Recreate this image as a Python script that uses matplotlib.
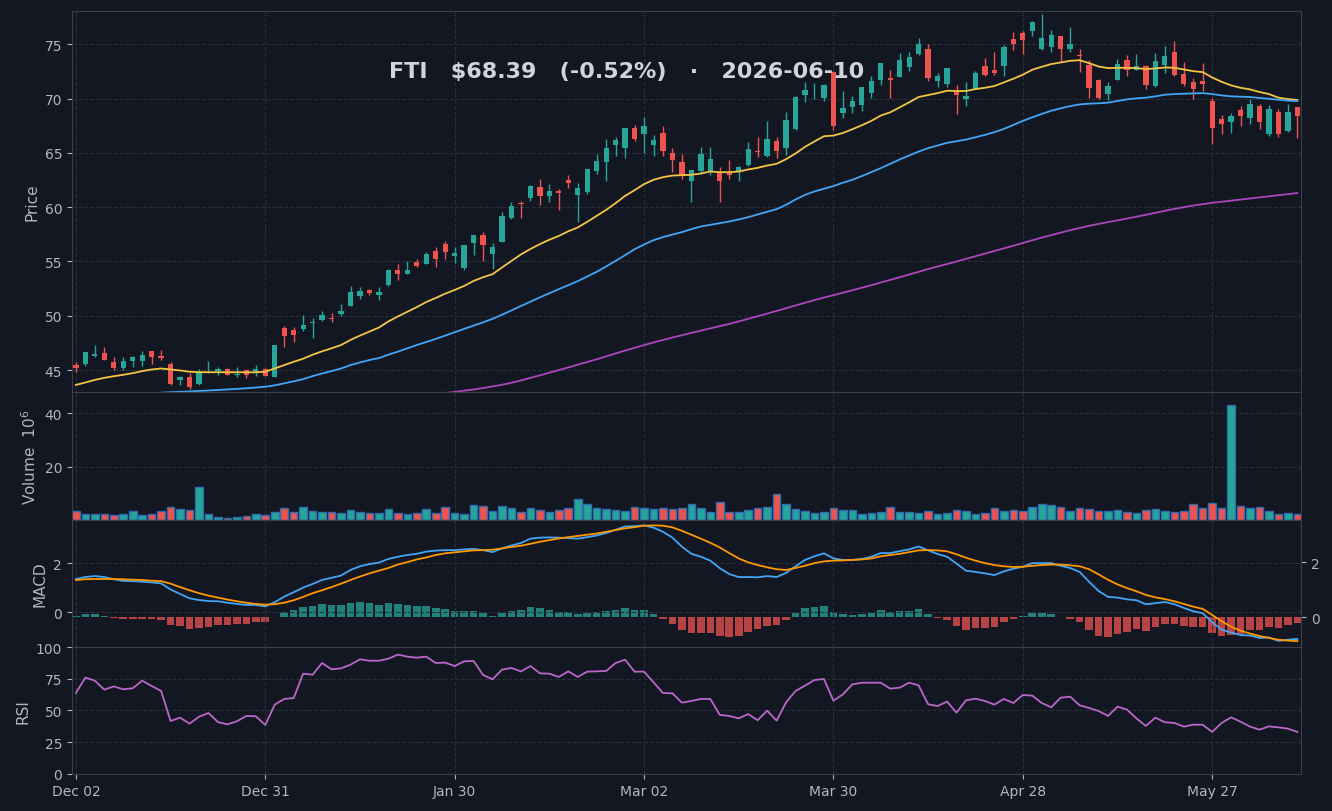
import numpy as np
import pandas as pd
import matplotlib
matplotlib.use('Agg')
import matplotlib.pyplot as plt

# FTI daily candles, Dec 2025 - Jun 2026
holidays = ['2025-12-25', '2026-01-01', '2026-01-19', '2026-02-16', '2026-04-03', '2026-05-25']
dates = pd.bdate_range('2025-12-02', periods=130, freq='C', holidays=holidays)

opens = [45.49, 45.56, 46.30, 46.57, 45.74, 45.22, 45.86, 45.86, 46.76, 46.33,
         45.56, 44.07, 44.35, 43.70, 44.78, 44.88, 45.15, 44.57, 44.97, 44.85,
         45.15, 44.38, 48.89, 48.70, 48.80, 49.38, 49.66, 49.81, 50.19, 50.93,
         51.85, 52.41, 51.94, 52.84, 54.26, 53.89, 54.91, 54.81, 55.93, 56.57,
         55.46, 54.44, 56.67, 57.41, 55.65, 56.79, 58.98, 60.34, 60.83, 61.85,
         61.02, 61.48, 62.48, 61.13, 61.41, 63.34, 64.17, 65.71, 65.43, 67.27,
         66.72, 65.71, 66.81, 64.97, 64.14, 62.42, 63.31, 63.31, 63.13, 63.19,
         63.31, 63.87, 65.18, 64.69, 66.07, 65.43, 67.18, 70.33, 70.28, 70.05,
         72.43, 68.67, 69.22, 69.40, 70.50, 71.70, 71.88, 71.97, 72.89, 74.08,
         74.54, 71.61, 71.33, 70.60, 69.95, 70.87, 72.98, 72.61, 72.98, 75.46,
         76.01, 76.19, 74.54, 74.72, 75.73, 74.54, 73.99, 73.07, 71.70, 70.41,
         71.70, 73.53, 72.61, 72.98, 71.15, 73.07, 74.27, 72.25, 71.51, 71.61,
         69.77, 68.12, 67.84, 68.94, 68.21, 69.31, 66.74, 68.76, 67.02, 69.22]
highs = [45.71, 46.67, 47.31, 47.13, 46.17, 46.17, 46.33, 46.73, 46.80, 46.85,
         45.71, 44.48, 44.72, 45.15, 45.83, 45.28, 45.18, 45.28, 45.00, 45.43,
         45.20, 47.31, 49.07, 48.95, 50.06, 49.78, 50.43, 50.25, 51.08, 52.75,
         52.65, 52.45, 52.65, 54.32, 54.78, 55.06, 55.25, 55.90, 56.36, 56.91,
         56.36, 56.50, 57.43, 57.69, 56.67, 59.54, 60.46, 60.56, 62.04, 62.60,
         62.13, 61.67, 62.94, 62.18, 63.52, 64.94, 66.32, 66.44, 67.30, 67.52,
         68.31, 66.63, 67.45, 65.43, 64.94, 63.43, 65.52, 65.52, 63.68, 64.33,
         63.77, 65.98, 66.44, 67.91, 66.44, 68.74, 70.21, 71.51, 71.41, 71.33,
         72.52, 70.66, 70.26, 71.08, 72.06, 73.28, 72.61, 74.17, 74.27, 75.55,
         75.00, 72.34, 72.82, 71.24, 71.51, 72.52, 73.72, 74.27, 74.91, 76.10,
         76.19, 77.11, 77.75, 76.28, 75.78, 76.56, 74.54, 73.53, 71.79, 71.51,
         73.62, 73.99, 74.08, 73.07, 74.17, 74.82, 75.28, 73.35, 71.88, 73.26,
         70.05, 68.49, 68.67, 69.31, 69.95, 69.50, 69.40, 69.04, 69.50, 69.22]
lows = [44.85, 45.40, 46.23, 45.93, 44.97, 45.00, 45.25, 45.40, 45.59, 45.96,
        43.64, 43.64, 43.27, 43.64, 44.75, 44.57, 44.57, 44.41, 44.32, 44.48,
        44.45, 44.35, 47.10, 47.62, 48.64, 47.92, 49.48, 49.41, 49.94, 50.86,
        51.54, 51.91, 51.45, 52.72, 53.30, 53.86, 54.48, 54.78, 54.48, 55.25,
        54.88, 54.20, 55.59, 55.03, 54.29, 56.76, 58.89, 59.04, 60.59, 60.22,
        60.52, 59.70, 61.81, 58.59, 61.23, 63.07, 62.42, 64.72, 64.51, 66.07,
        65.03, 64.72, 64.72, 63.25, 62.55, 60.49, 63.04, 62.94, 60.49, 62.55,
        62.42, 63.77, 64.66, 64.66, 64.51, 64.79, 67.09, 69.72, 69.97, 69.74,
        67.14, 68.18, 68.64, 68.82, 70.05, 71.24, 70.05, 71.95, 72.52, 73.99,
        71.61, 71.02, 71.05, 68.55, 69.31, 70.85, 72.06, 72.16, 72.06, 74.45,
        74.08, 75.73, 74.45, 74.27, 73.44, 74.30, 72.46, 70.05, 70.00, 69.86,
        71.68, 72.06, 72.58, 70.87, 71.10, 72.34, 72.06, 71.15, 69.95, 70.69,
        65.83, 66.77, 66.87, 67.48, 67.66, 67.20, 66.56, 66.47, 66.96, 66.38]
closes = [45.22, 46.67, 46.48, 45.96, 45.22, 45.83, 46.20, 46.39, 46.23, 46.11,
          43.70, 44.35, 43.46, 44.72, 44.85, 45.09, 44.57, 44.66, 44.57, 45.15,
          44.48, 47.31, 48.18, 48.27, 49.17, 49.44, 50.09, 49.75, 50.46, 52.22,
          52.31, 52.13, 52.22, 54.26, 53.89, 54.26, 54.54, 55.65, 55.19, 55.83,
          55.74, 56.48, 57.41, 56.48, 56.30, 59.17, 60.09, 60.28, 61.94, 61.02,
          61.48, 61.30, 62.24, 61.75, 63.50, 64.23, 65.43, 66.17, 67.27, 66.26,
          67.45, 66.17, 65.15, 64.36, 62.94, 63.40, 64.88, 64.42, 62.42, 62.98,
          63.68, 65.34, 65.12, 66.26, 65.15, 68.01, 70.12, 70.78, 70.34, 71.24,
          67.51, 69.13, 69.77, 71.05, 71.61, 73.26, 71.70, 73.53, 73.81, 75.00,
          71.88, 72.06, 72.80, 70.32, 70.23, 72.34, 72.16, 72.34, 74.72, 75.00,
          75.37, 77.02, 75.55, 75.83, 74.54, 75.00, 73.93, 70.96, 70.05, 71.15,
          73.17, 72.61, 72.98, 71.24, 73.44, 73.90, 72.16, 71.33, 70.87, 71.33,
          67.29, 67.66, 68.39, 68.39, 69.50, 67.84, 69.04, 66.74, 68.75, 68.39]
# volume in millions
volume = [3.5, 2.3, 2.3, 2.3, 1.9, 2.3, 3.5, 2.0, 2.3, 3.5,
          4.9, 4.2, 3.8, 12.3, 2.3, 1.2, 0.9, 1.2, 1.6, 2.3,
          2.0, 3.1, 4.6, 3.1, 4.9, 3.5, 3.1, 3.1, 2.7, 3.8,
          3.1, 2.7, 2.7, 4.2, 2.7, 2.3, 2.7, 4.2, 2.7, 4.9,
          2.7, 2.3, 5.7, 5.3, 3.5, 5.3, 4.6, 3.1, 4.6, 3.8,
          3.1, 3.8, 4.6, 7.9, 6.0, 4.6, 4.2, 3.8, 3.5, 4.9,
          4.6, 4.2, 4.6, 4.2, 4.6, 6.0, 4.6, 3.1, 6.8, 3.1,
          3.1, 3.8, 4.6, 4.9, 9.8, 6.0, 4.2, 3.5, 2.7, 3.1,
          4.6, 3.8, 3.8, 2.3, 2.7, 3.1, 4.9, 3.1, 3.1, 2.7,
          3.5, 2.3, 2.7, 3.8, 3.5, 2.3, 2.7, 4.6, 3.5, 3.8,
          3.5, 4.9, 6.0, 5.7, 4.9, 3.5, 4.6, 4.2, 3.5, 3.5,
          3.8, 3.1, 2.7, 3.8, 4.2, 3.5, 3.1, 3.5, 6.0, 4.6,
          6.4, 4.6, 43.1, 5.3, 4.6, 4.9, 3.5, 2.3, 2.7, 2.3]

nan = np.nan
ma20 = [43.64, 43.86, 44.10, 44.29, 44.44, 44.57, 44.72, 44.91, 45.06, 45.15,
        45.06, 44.97, 44.85, 44.81, 44.81, 44.80, 44.80, 44.80, 44.80, 44.80,
        44.85, 45.15, 45.46, 45.77, 46.05, 46.42, 46.73, 47.01, 47.31, 47.78,
        48.18, 48.55, 48.92, 49.48, 49.94, 50.37, 50.80, 51.27, 51.64, 52.04,
        52.38, 52.75, 53.21, 53.55, 53.83, 54.45, 55.05, 55.65, 56.15, 56.60,
        57.00, 57.35, 57.78, 58.13, 58.65, 59.20, 59.75, 60.37, 61.04, 61.56,
        62.12, 62.52, 62.76, 62.91, 62.94, 62.98, 63.10, 63.28, 63.22, 63.22,
        63.28, 63.47, 63.62, 63.83, 63.99, 64.42, 64.94, 65.55, 66.05, 66.53,
        66.59, 66.83, 67.17, 67.54, 67.94, 68.43, 68.73, 69.19, 69.65, 70.14,
        70.32, 70.50, 70.72, 70.69, 70.69, 70.87, 70.99, 71.15, 71.48, 71.82,
        72.19, 72.65, 72.92, 73.17, 73.32, 73.47, 73.53, 73.26, 72.95, 72.80,
        72.83, 72.83, 72.80, 72.71, 72.77, 72.86, 72.83, 72.68, 72.52, 72.43,
        71.94, 71.54, 71.21, 70.99, 70.84, 70.60, 70.41, 70.08, 69.95, 69.86]
ma50 = [nan, nan, nan, nan, nan, nan, nan, 42.76, 42.84, 42.92,
        42.97, 43.00, 43.04, 43.08, 43.12, 43.17, 43.22, 43.27, 43.33, 43.40,
        43.47, 43.60, 43.78, 43.97, 44.17, 44.45, 44.69, 44.91, 45.15, 45.46,
        45.71, 45.93, 46.11, 46.42, 46.70, 47.01, 47.31, 47.59, 47.87, 48.18,
        48.49, 48.80, 49.10, 49.40, 49.72, 50.10, 50.50, 50.90, 51.30, 51.70,
        52.08, 52.45, 52.82, 53.19, 53.62, 54.05, 54.54, 55.06, 55.58, 56.13,
        56.56, 56.96, 57.24, 57.48, 57.70, 57.98, 58.22, 58.37, 58.53, 58.68,
        58.87, 59.08, 59.33, 59.57, 59.82, 60.21, 60.71, 61.13, 61.45, 61.70,
        61.94, 62.25, 62.52, 62.86, 63.23, 63.59, 63.99, 64.39, 64.76, 65.12,
        65.43, 65.67, 65.92, 66.07, 66.22, 66.44, 66.65, 66.90, 67.20, 67.57,
        67.94, 68.27, 68.58, 68.87, 69.10, 69.30, 69.46, 69.53, 69.56, 69.62,
        69.77, 69.92, 70.02, 70.08, 70.20, 70.35, 70.41, 70.44, 70.47, 70.50,
        70.41, 70.29, 70.20, 70.17, 70.14, 70.05, 69.98, 69.89, 69.80, 69.77]
ma100 = [nan] * 38 + [
        42.78, 42.89,
        43.00, 43.10, 43.22, 43.35, 43.50, 43.65, 43.84, 44.05, 44.28, 44.52,
        44.76, 45.00, 45.25, 45.50, 45.75, 46.00, 46.27, 46.54, 46.80, 47.05,
        47.30, 47.55, 47.78, 48.00, 48.22, 48.43, 48.64, 48.85, 49.05, 49.25,
        49.48, 49.72, 49.96, 50.20, 50.45, 50.70, 50.95, 51.20, 51.45, 51.68,
        51.90, 52.12, 52.35, 52.58, 52.82, 53.06, 53.30, 53.55, 53.80, 54.05,
        54.30, 54.53, 54.76, 55.00, 55.24, 55.48, 55.72, 55.96, 56.20, 56.45,
        56.70, 56.95, 57.20, 57.43, 57.66, 57.88, 58.08, 58.28, 58.46, 58.62,
        58.78, 58.95, 59.12, 59.30, 59.48, 59.66, 59.84, 60.00, 60.15, 60.28,
        60.40, 60.50, 60.60, 60.70, 60.80, 60.90, 61.00, 61.10, 61.20, 61.30]

macd = [1.36, 1.44, 1.48, 1.44, 1.35, 1.28, 1.27, 1.25, 1.22, 1.18,
        0.93, 0.75, 0.57, 0.50, 0.46, 0.45, 0.39, 0.34, 0.30, 0.30,
        0.24, 0.41, 0.64, 0.82, 1.01, 1.16, 1.32, 1.41, 1.50, 1.73,
        1.88, 1.97, 2.03, 2.18, 2.27, 2.34, 2.39, 2.48, 2.52, 2.54,
        2.54, 2.57, 2.59, 2.54, 2.46, 2.61, 2.73, 2.83, 3.01, 3.05,
        3.06, 3.05, 3.03, 3.01, 3.07, 3.14, 3.24, 3.37, 3.51, 3.52,
        3.55, 3.46, 3.29, 3.05, 2.68, 2.39, 2.27, 2.11, 1.80, 1.56,
        1.44, 1.44, 1.43, 1.48, 1.44, 1.61, 1.88, 2.14, 2.29, 2.41,
        2.20, 2.14, 2.14, 2.18, 2.27, 2.42, 2.42, 2.50, 2.57, 2.69,
        2.53, 2.38, 2.27, 1.99, 1.70, 1.65, 1.59, 1.52, 1.67, 1.78,
        1.86, 2.01, 2.01, 2.01, 1.90, 1.81, 1.65, 1.25, 0.87, 0.63,
        0.60, 0.53, 0.49, 0.33, 0.37, 0.42, 0.33, 0.18, 0.04, -0.04,
        -0.41, -0.71, -0.83, -0.93, -0.95, -1.05, -1.03, -1.17, -1.12, -1.09]
signal = [1.32, 1.35, 1.36, 1.36, 1.36, 1.35, 1.33, 1.32, 1.29, 1.27,
          1.17, 1.03, 0.90, 0.78, 0.68, 0.60, 0.52, 0.45, 0.39, 0.34,
          0.31, 0.33, 0.39, 0.49, 0.63, 0.78, 0.90, 1.03, 1.17, 1.32,
          1.46, 1.59, 1.70, 1.81, 1.95, 2.05, 2.16, 2.24, 2.34, 2.41,
          2.45, 2.49, 2.53, 2.54, 2.56, 2.61, 2.67, 2.72, 2.80, 2.88,
          2.95, 3.02, 3.07, 3.12, 3.17, 3.22, 3.29, 3.36, 3.43, 3.48,
          3.54, 3.55, 3.54, 3.47, 3.33, 3.17, 3.01, 2.84, 2.65, 2.42,
          2.20, 2.04, 1.93, 1.84, 1.76, 1.73, 1.81, 1.90, 2.01, 2.08,
          2.11, 2.12, 2.14, 2.16, 2.20, 2.29, 2.34, 2.39, 2.46, 2.53,
          2.54, 2.53, 2.49, 2.37, 2.23, 2.11, 2.01, 1.93, 1.88, 1.85,
          1.86, 1.90, 1.93, 1.95, 1.95, 1.92, 1.88, 1.76, 1.55, 1.33,
          1.14, 0.99, 0.86, 0.71, 0.61, 0.54, 0.45, 0.34, 0.23, 0.14,
          -0.11, -0.37, -0.59, -0.75, -0.87, -0.97, -1.05, -1.12, -1.16, -1.18]
hist = [0.05, 0.12, 0.12, 0.05, -0.03, -0.06, -0.06, -0.06, -0.06, -0.10,
        -0.28, -0.32, -0.42, -0.39, -0.35, -0.28, -0.28, -0.24, -0.24, -0.17,
        -0.17, 0.00, 0.19, 0.27, 0.38, 0.41, 0.48, 0.45, 0.45, 0.52,
        0.56, 0.52, 0.45, 0.52, 0.48, 0.45, 0.41, 0.41, 0.34, 0.30,
        0.23, 0.23, 0.23, 0.16, 0.05, 0.16, 0.23, 0.27, 0.38, 0.34,
        0.27, 0.19, 0.19, 0.12, 0.16, 0.19, 0.23, 0.27, 0.34, 0.27,
        0.27, 0.12, -0.06, -0.24, -0.46, -0.57, -0.57, -0.57, -0.68, -0.72,
        -0.68, -0.53, -0.42, -0.32, -0.28, -0.10, 0.16, 0.34, 0.38, 0.41,
        0.19, 0.12, 0.08, 0.12, 0.16, 0.27, 0.19, 0.23, 0.23, 0.30,
        0.12, -0.02, -0.10, -0.32, -0.46, -0.39, -0.39, -0.35, -0.17, -0.06,
        0.05, 0.16, 0.16, 0.12, 0.00, -0.06, -0.17, -0.46, -0.68, -0.72,
        -0.61, -0.53, -0.42, -0.50, -0.35, -0.24, -0.24, -0.32, -0.35, -0.35,
        -0.57, -0.68, -0.64, -0.61, -0.46, -0.46, -0.35, -0.39, -0.28, -0.21]
rsi = [63.8, 75.9, 73.5, 66.4, 69.0, 66.7, 67.5, 73.5, 69.3, 65.4,
       41.7, 44.4, 39.6, 45.1, 48.0, 40.9, 39.1, 41.5, 45.7, 45.4,
       38.6, 54.6, 59.1, 59.8, 79.0, 78.2, 87.4, 82.4, 83.2, 86.1,
       90.3, 89.2, 89.2, 90.8, 94.0, 92.4, 91.6, 92.4, 87.4, 87.7,
       85.0, 88.7, 89.0, 78.0, 74.5, 82.2, 83.5, 80.8, 85.0, 79.3,
       79.0, 76.4, 80.8, 76.4, 80.6, 80.8, 81.1, 87.4, 90.0, 80.6,
       80.6, 72.2, 63.8, 63.5, 56.2, 57.5, 59.1, 59.1, 46.5, 45.7,
       43.8, 47.2, 42.3, 49.9, 42.0, 56.4, 65.4, 69.6, 74.0, 74.8,
       57.7, 62.7, 70.6, 71.9, 71.9, 71.9, 67.2, 68.0, 71.9, 69.8,
       54.9, 53.5, 57.0, 48.3, 58.0, 59.3, 57.5, 54.6, 59.1, 55.9,
       62.2, 61.7, 55.9, 52.5, 60.1, 60.9, 54.1, 52.0, 49.6, 45.7,
       53.0, 50.7, 43.8, 37.8, 44.4, 40.7, 40.2, 37.3, 38.8, 38.8,
       33.1, 40.2, 44.6, 41.2, 37.3, 34.9, 37.5, 36.7, 35.7, 33.1]

title = r'FTI   \$68.39   (-0.52%)   ·   2026-06-10'

BG = '#131722'
GRID = '#2a2e39'
SPINE = '#3a3e4a'
TXT = '#b2b5be'
UP = '#26a69a'
DN = '#ef5350'

x = np.arange(len(dates))
o, h, l, c = (np.array(a) for a in (opens, highs, lows, closes))
col = np.where(c >= o, UP, DN)
hist = np.array(hist)

fig = plt.figure(figsize=(13.32, 8.12), dpi=100, facecolor=BG)
gs = fig.add_gridspec(4, 1, height_ratios=[381, 128, 127, 127],
                      left=0.054, right=0.977, top=0.985, bottom=0.0456, hspace=0)
ax1 = fig.add_subplot(gs[0])
ax2 = fig.add_subplot(gs[1], sharex=ax1)
ax3 = fig.add_subplot(gs[2], sharex=ax1)
ax4 = fig.add_subplot(gs[3], sharex=ax1)

for ax in (ax1, ax2, ax3, ax4):
    ax.set_facecolor(BG)
    ax.grid(True, color=GRID, linestyle='--', linewidth=0.8)
    ax.set_axisbelow(True)
    for s in ax.spines.values():
        s.set_color(SPINE)
    ax.tick_params(colors=TXT, labelsize=10)
for ax in (ax1, ax2, ax3):
    ax.tick_params(axis='x', labelbottom=False, length=0)

# price panel
ax1.vlines(x, l, h, color=col, linewidth=1)
ax1.bar(x, np.maximum(np.abs(c - o), 0.05), bottom=np.minimum(o, c), width=0.56, color=col)
ax1.plot(x, ma20, color='#f5c542', lw=1.3)
ax1.plot(x, ma50, color='#42a5f5', lw=1.3)
ax1.plot(x, ma100, color='#ab47bc', lw=1.3)
ax1.set_ylim(42.98, 78.04)
ax1.set_yticks([45, 50, 55, 60, 65, 70, 75])
ax1.set_ylabel('Price', color=TXT, fontsize=11)
ax1.text(0.451, 0.843, title, transform=ax1.transAxes, ha='center', va='center',
         fontsize=16, fontweight='bold', color='#d1d4dc')

# volume
ax2.bar(x, volume, width=0.8, color=col, edgecolor='#2f6db0', linewidth=1)
ax2.set_ylim(0, 47.9)
ax2.set_yticks([20, 40])
ax2.set_ylabel('Volume  $10^{6}$', color=TXT, fontsize=11)

# MACD: lines on the left scale, histogram on the right scale
ax3r = ax3.twinx()
ax3r.bar(x, hist, width=0.8, color=np.where(hist >= 0, UP, DN), alpha=0.75)
ax3r.set_ylim(-1.08, 3.54)
ax3r.set_yticks([0, 2])
ax3r.tick_params(colors=TXT, labelsize=10)
for s in ax3r.spines.values():
    s.set_color(SPINE)
ax3.set_zorder(ax3r.get_zorder() + 1)
ax3.patch.set_visible(False)
ax3.plot(x, macd, color='#42a5f5', lw=1.3)
ax3.plot(x, signal, color='#ff9800', lw=1.3)
ax3.set_ylim(-1.42, 3.77)
ax3.set_yticks([0, 2])
ax3.set_ylabel('MACD', color=TXT, fontsize=11)

# RSI
ax4.plot(x, rsi, color='#ba68c8', lw=1.3)
ax4.set_ylim(0, 100)
ax4.set_yticks([0, 25, 50, 75, 100])
ax4.set_ylabel('RSI', color=TXT, fontsize=11)

ax4.set_xticks(x[::20])
ax4.set_xticklabels(dates[::20].strftime('%b %d'))
ax4.set_xlim(-0.42, len(x) - 0.58)

fig.savefig('out.png', dpi=100, facecolor=BG)
